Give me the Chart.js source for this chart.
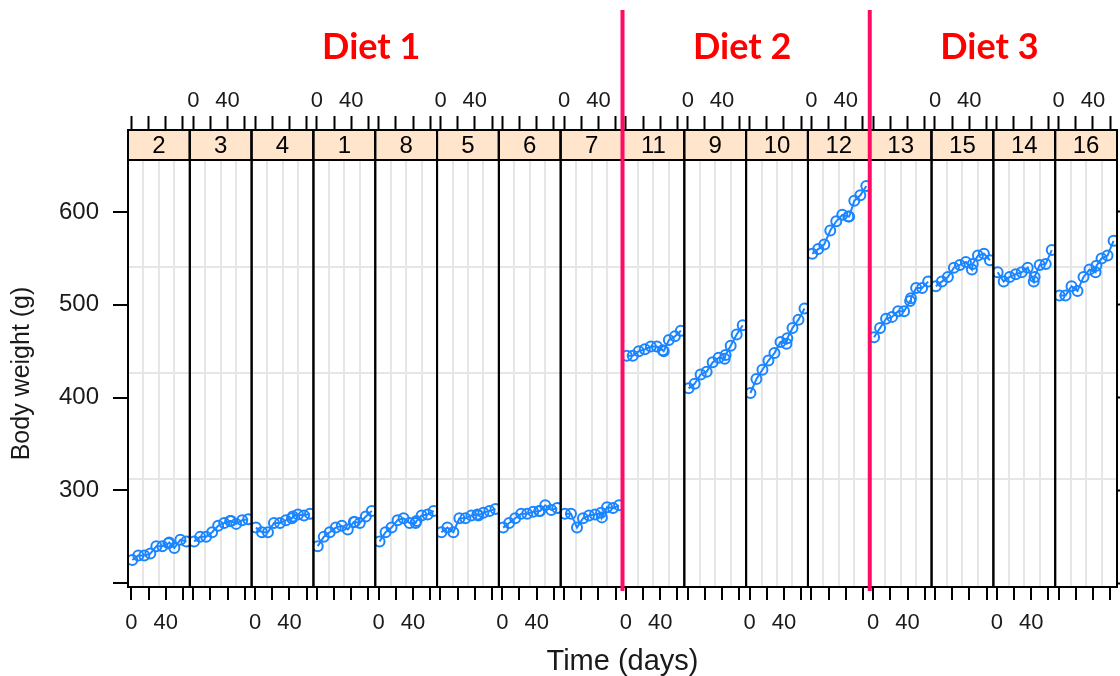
<!DOCTYPE html>
<html>
<head>
<meta charset="utf-8">
<script src="https://cdn.jsdelivr.net/npm/chart.js@4.4.1/dist/chart.umd.min.js"></script>
<style>
  html, body { margin: 0; padding: 0; background: #fff; }
  #wrap { width: 1120px; height: 676px; }
</style>
</head>
<body>
<div id="wrap"><canvas id="chart" width="1120" height="676"></canvas></div>
<script>
// measurement days
const days = [1, 8, 15, 22, 29, 36, 43, 44, 50, 57, 64];

// body weight (g) per rat
const rat1  = [240, 250, 255, 260, 262, 258, 266, 266, 265, 272, 278];
const rat2  = [225, 230, 230, 232, 240, 240, 243, 244, 238, 247, 245];
const rat3  = [245, 250, 250, 255, 262, 265, 267, 267, 264, 268, 269];
const rat4  = [260, 255, 255, 265, 265, 268, 270, 272, 274, 273, 275];
const rat5  = [255, 260, 255, 270, 270, 273, 274, 273, 276, 278, 280];
const rat6  = [260, 265, 270, 275, 275, 277, 278, 278, 284, 279, 281];
const rat7  = [275, 275, 260, 270, 273, 274, 276, 271, 282, 281, 284];
const rat8  = [245, 255, 260, 268, 270, 265, 265, 267, 273, 274, 278];
const rat9  = [410, 415, 425, 428, 438, 443, 442, 446, 456, 468, 478];
const rat10 = [405, 420, 430, 440, 448, 460, 458, 464, 475, 484, 496];
const rat11 = [445, 445, 450, 452, 455, 455, 451, 450, 462, 466, 472];
const rat12 = [555, 560, 565, 580, 590, 597, 595, 595, 612, 618, 628];
const rat13 = [465, 475, 485, 487, 493, 493, 504, 507, 518, 518, 525];
const rat14 = [535, 525, 530, 533, 535, 540, 525, 530, 543, 544, 559];
const rat15 = [520, 525, 530, 540, 543, 546, 538, 544, 553, 555, 548];
const rat16 = [510, 510, 520, 515, 530, 538, 535, 542, 550, 553, 569];
const ratWeights = [rat1, rat2, rat3, rat4, rat5, rat6, rat7, rat8,
                    rat9, rat10, rat11, rat12, rat13, rat14, rat15, rat16];

// panel order (left to right) and diet groups
const panelRats = [2, 3, 4, 1, 8, 5, 6, 7, 11, 9, 10, 12, 13, 15, 14, 16];
const dietNames = ['Diet 1', 'Diet 2', 'Diet 3'];
const dietPanelCounts = [8, 4, 4];

// axes
const xRange = [-4, 68];
const xTicks = [0, 20, 40, 60];
const xTickLabels = [0, 40];
const xGrid = [14, 32, 50];
const yRange = [196, 656];
const yTicks = [200, 300, 400, 500, 600];
const yTickLabels = ['', '300', '400', '500', '600'];
const yGrid = [312, 427, 541];

const FONT = "'Liberation Sans', Arial, sans-serif";
const BLUE = '#1a85ff';
const CLEAR = 'rgba(0,0,0,0)';
const GRIDGREY = '#e6e6e6';

Chart.defaults.font.family = FONT;
Chart.defaults.color = '#1a1a1a';

const scales = {};
const datasets = [];

panelRats.forEach((rat, i) => {
  const labelBottom = i % 2 === 0;
  scales['xb' + i] = {
    type: 'linear', position: 'bottom', stack: 'bottom', weight: i,
    min: xRange[0], max: xRange[1],
    afterBuildTicks: s => { s.ticks = xTicks.concat(xGrid).map(v => ({ value: v })); },
    afterFit: s => { s.height = 46; s.paddingLeft = 0; s.paddingRight = 0; },
    ticks: {
      autoSkip: false, maxRotation: 0, padding: 10,
      font: { size: 22 }, color: '#1a1a1a',
      callback: v => (labelBottom && xTickLabels.includes(v)) ? String(v) : ''
    },
    grid: {
      drawOnChartArea: true, lineWidth: 2, tickLength: 13, tickWidth: 2,
      color: ctx => (ctx.tick && xGrid.includes(ctx.tick.value)) ? GRIDGREY : CLEAR,
      tickColor: ctx => (ctx.tick && xGrid.includes(ctx.tick.value)) ? CLEAR : '#000'
    },
    border: { display: true, color: '#000', width: 2 }
  };
  scales['xt' + i] = {
    type: 'linear', position: 'top', stack: 'top', weight: 16 - i,
    min: xRange[0], max: xRange[1],
    afterBuildTicks: s => { s.ticks = xTicks.map(v => ({ value: v })); },
    afterFit: s => { s.height = 160; s.paddingLeft = 0; s.paddingRight = 0; },
    ticks: {
      autoSkip: false, maxRotation: 0, padding: 2,
      font: { size: 22 }, color: '#1a1a1a',
      callback: v => (!labelBottom && xTickLabels.includes(v)) ? String(v) : ''
    },
    grid: { drawOnChartArea: false, tickLength: 44, tickWidth: 2, color: '#000' },
    border: { display: true, color: '#000', width: 2 }
  };

  const w = ratWeights[rat - 1];
  datasets.push({
    label: 'Rat ' + rat,
    data: days.map((d, k) => ({ x: d, y: w[k] })),
    xAxisID: 'xb' + i,
    yAxisID: 'y',
    borderColor: BLUE,
    backgroundColor: CLEAR,
    borderWidth: 2,
    pointRadius: 5,
    pointBorderWidth: 2,
    pointBackgroundColor: CLEAR,
    pointBorderColor: BLUE,
    tension: 0
  });
});

scales.y = {
  type: 'linear', position: 'left', min: yRange[0], max: yRange[1],
  afterBuildTicks: s => { s.ticks = yTicks.concat(yGrid).map(v => ({ value: v })); },
  afterFit: s => { s.width = 128; },
  ticks: {
    padding: 14, font: { size: 24 }, color: '#1a1a1a',
    callback: v => { const k = yTicks.indexOf(v); return k >= 0 ? yTickLabels[k] : ''; }
  },
  grid: {
    lineWidth: 2, tickLength: 15, tickWidth: 2,
    color: ctx => (ctx.tick && yGrid.includes(ctx.tick.value)) ? GRIDGREY : CLEAR,
    tickColor: ctx => (ctx.tick && yGrid.includes(ctx.tick.value)) ? CLEAR : '#000'
  },
  border: { display: true, color: '#000', width: 2 },
  title: {
    display: true, text: 'Body weight (g)', color: '#1a1a1a',
    font: { size: 25, lineHeight: 1.2 }, padding: { top: 7, bottom: 0 }
  }
};
scales.yr = {
  type: 'linear', position: 'right', min: yRange[0], max: yRange[1],
  afterBuildTicks: s => { s.ticks = yTicks.map(v => ({ value: v })); },
  afterFit: s => { s.width = 3; },
  ticks: { padding: 0, callback: () => '' },
  grid: { drawOnChartArea: false, tickLength: 5, tickWidth: 2, color: '#000' },
  border: { display: false }
};

// strips, panel borders, diet separators and headings
const panelDecor = {
  id: 'panelDecor',
  afterDraw(chart) {
    const ctx = chart.ctx;
    const area = chart.chartArea;
    const stripTop = area.top - 30;
    ctx.save();
    panelRats.forEach((rat, i) => {
      const s = chart.scales['xb' + i];
      ctx.fillStyle = '#ffe5cc';
      ctx.fillRect(s.left, stripTop, s.right - s.left, area.top - stripTop);
      ctx.strokeStyle = '#000';
      ctx.lineWidth = 2;
      ctx.strokeRect(s.left, stripTop, s.right - s.left, area.top - stripTop);
      ctx.fillStyle = '#000';
      ctx.font = '24px ' + FONT;
      ctx.textAlign = 'center';
      ctx.textBaseline = 'middle';
      ctx.fillText(String(rat), (s.left + s.right) / 2, (stripTop + area.top) / 2 + 1);
      // panel frame
      ctx.beginPath();
      ctx.moveTo(s.left, stripTop);
      ctx.lineTo(s.left, area.bottom);
      ctx.moveTo(s.right, stripTop);
      ctx.lineTo(s.right, area.bottom);
      ctx.stroke();
    });
    // diet separators and headings
    let start = 0;
    dietNames.forEach((name, d) => {
      const first = chart.scales['xb' + start];
      const last = chart.scales['xb' + (start + dietPanelCounts[d] - 1)];
      if (d > 0) {
        ctx.strokeStyle = '#ff0a64';
        ctx.lineWidth = 4;
        ctx.beginPath();
        ctx.moveTo(first.left, 10);
        ctx.lineTo(first.left, area.bottom + 4);
        ctx.stroke();
      }
      ctx.fillStyle = '#ff0000';
      ctx.font = "bold 36px Lato, 'Open Sans', sans-serif";
      ctx.textAlign = 'center';
      ctx.textBaseline = 'middle';
      ctx.fillText(name, (first.left + last.right) / 2 - 4, 47);
      start += dietPanelCounts[d];
    });
    ctx.restore();
  }
};

new Chart(document.getElementById('chart'), {
  type: 'line',
  data: { datasets },
  options: {
    responsive: false,
    animation: false,
    devicePixelRatio: 1,
    events: [],
    layout: { padding: 0, autoPadding: false },
    scales,
    plugins: {
      legend: { display: false },
      tooltip: { enabled: false },
      title: {
        display: true, position: 'bottom', fullSize: false,
        text: 'Time (days)', color: '#1a1a1a',
        font: { size: 29, weight: 'normal', lineHeight: 1.0 },
        padding: { top: 14, bottom: 0 }
      }
    }
  },
  plugins: [panelDecor]
});
</script>
</body>
</html>
